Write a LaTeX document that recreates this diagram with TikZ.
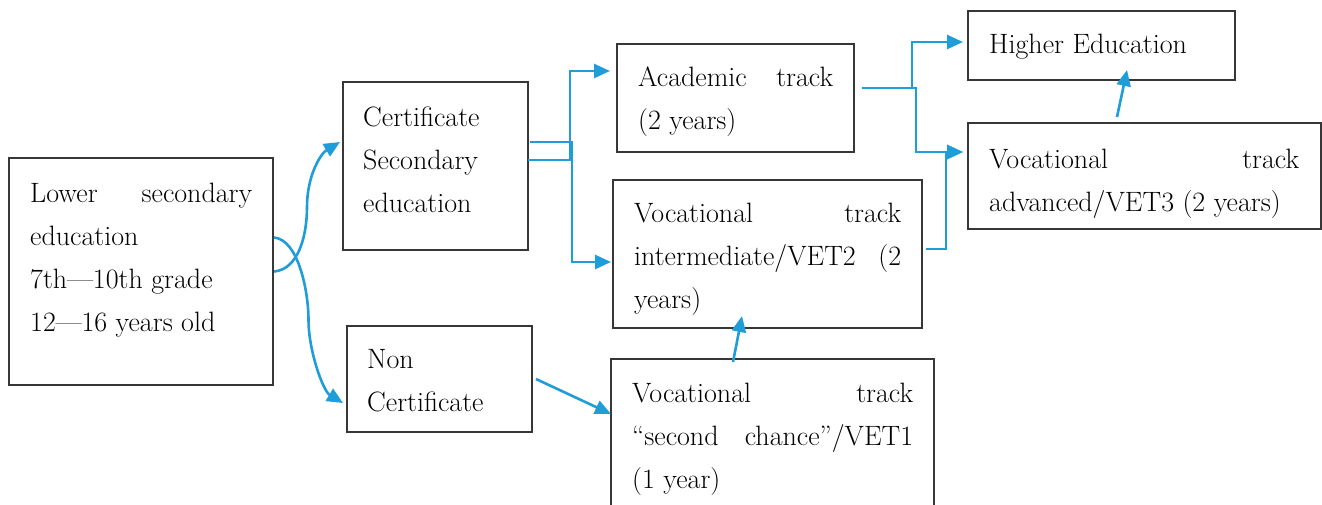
\documentclass[tikz,border=0pt]{standalone}
\usepackage{fontspec}
\usetikzlibrary{arrows.meta,calc}
\definecolor{arrc}{RGB}{31,157,217}
\definecolor{boxc}{RGB}{55,55,55}
\newcommand\jl[2]{\makebox[#1][s]{#2}}
\begin{document}
\begin{tikzpicture}[x=1pt,y=-1pt,
  box/.style={draw=boxc,line width=1.3pt,inner sep=0pt,outer sep=0pt},
  txt/.style={align=left,inner sep=0pt,anchor=base west,font=\fontsize{28}{43}\selectfont},
  arr/.style={draw=arrc,line width=2.6pt,-{Triangle[length=16pt,width=14pt]}}]
\useasboundingbox[fill=white] (0,0) rectangle (1322,504);
% boxes
\node[box,minimum width=264pt,minimum height=227pt] (lower) at (141,271.5) {};
\node[box,minimum width=185pt,minimum height=168pt] (cert) at (435.5,166) {};
\node[box,minimum width=185pt,minimum height=106pt] (non) at (439.5,379) {};
\node[box,minimum width=237pt,minimum height=108pt] (acad) at (735.5,98) {};
\node[box,minimum width=309pt,minimum height=148pt] (inter) at (767.5,254) {};
\node[box,minimum width=323pt,minimum height=171pt] (vet1) at (772.5,444.5) {};
\node[box,minimum width=267pt,minimum height=69pt] (higher) at (1101.5,45.5) {};
\node[box,minimum width=353pt,minimum height=106pt] (adv) at (1144.5,176) {};
% texts (anchored at the baseline of the last line)
\node[txt] (tlower) at (30,331) {\jl{222pt}{Lower secondary}\\education\\7th—10th grade\\12—16 years old};
\node[txt] (tcert) at (363,212) {Certificate\\Secondary\\education};
\node[txt] (tnon) at (367,411) {Non\\Certificate};
\node[txt] (tacad) at (638,129) {\jl{195pt}{Academic track}\\(2 years)};
\node[txt] (tinter) at (634,308) {\jl{267pt}{Vocational track}\\\jl{267pt}{intermediate/VET2 (2}\\years)};
\node[txt] (tvet1) at (632,488) {\jl{281pt}{Vocational track}\\\jl{281pt}{“second chance”/VET1}\\(1 year)};
\node[txt] (thigher) at (989,53) {Higher Education};
\node[txt] (tadv) at (989,211) {\jl{310pt}{Vocational track}\\advanced/VET3 (2 years)};
% curved connectors
\coordinate (s1) at ([xshift=1pt]lower.east);
\coordinate (e1) at ([xshift=-3pt,yshift=24pt]cert.west);
\coordinate (m1) at ($(s1)!0.5!(e1)$);
\draw[arr] (s1) .. controls ($(s1)+(24,-2)$) and ($(m1)+(0,30)$) .. (m1)
  .. controls ($(m1)+(0,-30)$) and ($(e1)+(-20,12)$) .. (e1);
\coordinate (s2) at ([xshift=1pt,yshift=34pt]lower.east);
\coordinate (e2) at ([xshift=-4pt,yshift=-24pt]non.west);
\coordinate (m2) at ($(s2)!0.5!(e2)$);
\draw[arr] (s2) .. controls ($(s2)+(24,2)$) and ($(m2)+(0,-30)$) .. (m2)
  .. controls ($(m2)+(0,30)$) and ($(e2)+(-20,-12)$) .. (e2);
% elbow connectors
\draw[arr] ([yshift=6pt]cert.east) -- ++(42,0) |- ([xshift=-7pt,yshift=27pt]acad.west);
\draw[arr] ([xshift=2pt,yshift=24pt]cert.east) -- ++(42,0) |- ([xshift=-2pt,yshift=-8pt]inter.west);
\draw[arr] ([xshift=8pt,yshift=10pt]acad.east) -- ++(50,0) |- ([xshift=-5pt,yshift=3.5pt]higher.west);
\draw[arr] ([xshift=8pt,yshift=10pt]acad.east) -- ++(54,0) |- ([xshift=-5pt,yshift=24pt]adv.west);
\draw[arr] ([xshift=4pt,yshift=5pt]inter.east) -- ++(20,0) |- ([xshift=-5pt,yshift=24pt]adv.west);
% straight connectors
\draw[arr] ([xshift=4pt]non.east) -- ([yshift=30.5pt]vet1.west);
\draw[arr] ([xshift=-39.5pt,yshift=-3pt]vet1.north) -- ([xshift=-25.5pt,yshift=12pt]inter.south);
\draw[arr] ([xshift=-27.5pt,yshift=6pt]adv.north) -- ([xshift=25.5pt,yshift=10pt]higher.south);
\end{tikzpicture}
\end{document}
